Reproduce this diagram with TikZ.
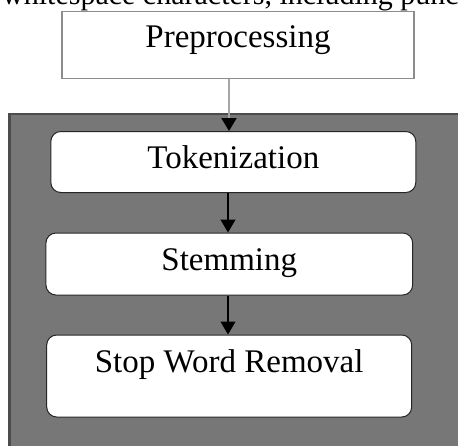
\documentclass[tikz,border=0pt]{standalone}
\usepackage{fontspec}
\setmainfont{Liberation Serif}
\usetikzlibrary{arrows.meta}
\definecolor{panelgray}{HTML}{777777}
\definecolor{paneledge}{HTML}{4C4C4C}
\definecolor{prebord}{HTML}{8C8C8C}
\begin{document}
\begin{tikzpicture}[x=1pt,y=-1pt,
  boxfont/.style={font=\fontsize{33}{36}\selectfont},
  prebox/.style={boxfont, draw=prebord, line width=1.6pt, fill=white, inner sep=0pt, text height=23pt},
  stepbox/.style={boxfont, draw=black!85, line width=1pt, fill=white, rounded corners=10pt, inner sep=0pt, text height=23pt},
  conn/.style={draw=black, line width=1.3pt, -{Triangle[width=15pt,length=13pt]}}
]
\useasboundingbox (0,0) rectangle (458,445);
\begin{scope}
  \clip (0,0) rectangle (458,445);
  \fill[paneledge] (8,112.5) rectangle (470,460);
  \fill[panelgray] (11,115) rectangle (470,460);
  \node[font=\fontsize{30}{34}\selectfont, anchor=base west, inner sep=0pt, text height=0pt, text depth=0pt] (cut) at (2,4) {whitespace characters, including punctuation};
\end{scope}

\node[prebox, minimum width=352pt, minimum height=67pt, text depth=19pt] (pre) at (238,45) {Preprocessing};
\node[stepbox, minimum width=365pt, minimum height=61pt, text depth=10pt] (tok) at (233.3,162) {Tokenization};
\node[stepbox, minimum width=366.7pt, minimum height=62pt, text depth=10pt] (stem) at (229.3,264) {Stemming};
\node[stepbox, minimum width=365pt, minimum height=82pt, text depth=31pt] (stop) at (229.2,376) {Stop Word Removal};

\draw[draw=black!35, line width=2pt, -{Triangle[width=15pt,length=13pt,color=black]}] ([xshift=-9pt]pre.south) -- ([xshift=-4.3pt]tok.north);
\draw[conn] ([xshift=-5.3pt]tok.south) -- ([xshift=-1.3pt]stem.north);
\draw[conn] ([xshift=-1.3pt]stem.south) -- ([xshift=-1.2pt]stop.north);
\end{tikzpicture}
\end{document}
